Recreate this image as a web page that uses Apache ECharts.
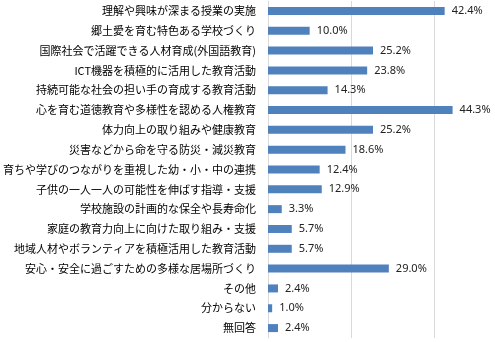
<!DOCTYPE html>
<html>
<head>
<meta charset="utf-8">
<script src="https://cdn.jsdelivr.net/npm/echarts@6/dist/echarts.min.js"></script>
<style>html,body{margin:0;padding:0;background:#fff;}#c{width:495px;height:342px;}</style>
</head>
<body>
<div id="c"></div>
<script>
const categories = [
  '理解や興味が深まる授業の実施',
  '郷土愛を育む特色ある学校づくり',
  '国際社会で活躍できる人材育成(外国語教育)',
  'ICT機器を積極的に活用した教育活動',
  '持続可能な社会の担い手の育成する教育活動',
  '心を育む道徳教育や多様性を認める人権教育',
  '体力向上の取り組みや健康教育',
  '災害などから命を守る防災・減災教育',
  '育ちや学びのつながりを重視した幼・小・中の連携',
  '子供の一人一人の可能性を伸ばす指導・支援',
  '学校施設の計画的な保全や長寿命化',
  '家庭の教育力向上に向けた取り組み・支援',
  '地域人材やボランティアを積極活用した教育活動',
  '安心・安全に過ごすための多様な居場所づくり',
  'その他',
  '分からない',
  '無回答'
];
const values = [42.4, 10.0, 25.2, 23.8, 14.3, 44.3, 25.2, 18.6, 12.4, 12.9, 3.3, 5.7, 5.7, 29.0, 2.4, 1.0, 2.4];
const xTicks = [0, 20, 40, 60];

const chart = echarts.init(document.getElementById('c'), null, {renderer: 'canvas'});
chart.setOption({
  animation: false,
  backgroundColor: '#ffffff',
  grid: {left: 268, top: 1, width: 250, height: 337, containLabel: false, outerBoundsMode: 'none'},
  xAxis: {
    type: 'value', min: xTicks[0], max: xTicks[xTicks.length - 1], interval: 20,
    axisLabel: {show: false}, axisTick: {show: false}, axisLine: {show: false},
    splitLine: {show: true, lineStyle: {color: '#d9d9d9', width: 1}}
  },
  yAxis: {
    type: 'category', data: categories, inverse: true,
    axisTick: {show: false},
    axisLine: {show: true, lineStyle: {color: '#d9d9d9', width: 1}},
    axisLabel: {
      margin: 12, color: '#000', fontSize: 11,
      fontFamily: '"Noto Sans CJK JP", sans-serif'
    }
  },
  series: [{
    type: 'bar', data: values, barWidth: 8,
    itemStyle: {color: '#4F81BD'},
    label: {
      show: true, position: 'right', distance: 7,
      color: '#222', fontSize: 11, fontFamily: '"Noto Sans", sans-serif',
      formatter: p => p.value.toFixed(1) + '%'
    }
  }]
});
</script>
</body>
</html>
